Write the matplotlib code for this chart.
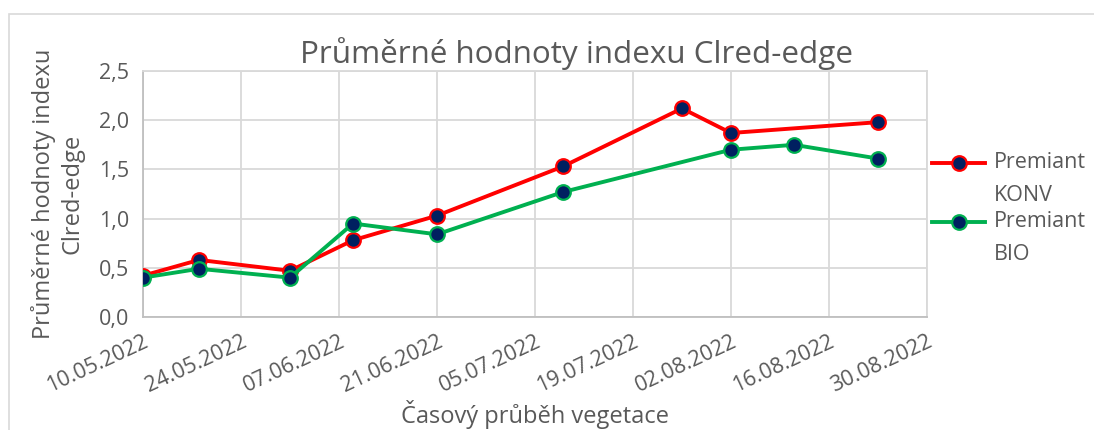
import datetime as dt
import matplotlib
matplotlib.use("Agg")
import matplotlib.pyplot as plt
import matplotlib.dates as mdates
from matplotlib.patches import Rectangle
from matplotlib.lines import Line2D

plt.rcParams['font.family'] = ['Open Sans', 'DejaVu Sans']

konv_dates = ["10.05.2022", "18.05.2022", "31.05.2022", "09.06.2022", "21.06.2022",
              "09.07.2022", "26.07.2022", "02.08.2022", "23.08.2022"]
konv_vals = [0.42, 0.58, 0.47, 0.78, 1.03, 1.53, 2.12, 1.87, 1.98]

bio_dates = ["10.05.2022", "18.05.2022", "31.05.2022", "09.06.2022", "21.06.2022",
             "09.07.2022", "02.08.2022", "11.08.2022", "23.08.2022"]
bio_vals = [0.40, 0.49, 0.40, 0.95, 0.84, 1.27, 1.70, 1.75, 1.61]

tick_dates = ["10.05.2022", "24.05.2022", "07.06.2022", "21.06.2022", "05.07.2022",
              "19.07.2022", "02.08.2022", "16.08.2022", "30.08.2022"]

series = [("Premiant", "KONV", "#ff0000"), ("Premiant", "BIO", "#00b050")]

def to_dt(lst):
    return [dt.datetime.strptime(s, "%d.%m.%Y") for s in lst]

gray = "#595959"
W, H = 1094, 430

fig = plt.figure(figsize=(W/100, H/100), dpi=100)
ax = fig.add_axes([143/W, 1 - 317/H, (927-143)/W, (317-71)/H])

style = dict(lw=2.8, marker="o", ms=10.5, mfc="#002060", mew=1.6, zorder=3)
ax.plot(to_dt(konv_dates), konv_vals, color=series[0][2], mec=series[0][2], **style)
ax.plot(to_dt(bio_dates), bio_vals, color=series[1][2], mec=series[1][2], **style)

td = to_dt(tick_dates)
ax.set_xlim(td[0], td[-1])
ax.set_ylim(0, 2.5)
ax.set_xticks(td)
ax.xaxis.set_major_formatter(mdates.DateFormatter("%d.%m.%Y"))
ax.set_yticks([0, 0.5, 1.0, 1.5, 2.0, 2.5])
ax.set_yticklabels(["0,0", "0,5", "1,0", "1,5", "2,0", "2,5"])
ax.grid(True, color="#d9d9d9", lw=1.3)
ax.set_axisbelow(True)
for s in ax.spines.values():
    s.set_color("#d9d9d9")
    s.set_linewidth(1.3)
ax.spines["bottom"].set_color("#bfbfbf")
ax.spines["left"].set_color("#bfbfbf")
ax.tick_params(length=0, colors=gray, labelsize=15.5)
ax.tick_params(axis="y", pad=10)
ax.tick_params(axis="x", pad=10)
plt.setp(ax.get_xticklabels(), rotation=25, ha="right", rotation_mode="anchor")

ax.set_title("Průměrné hodnoty indexu Clred-edge", fontsize=22.6, color=gray, pad=6,
             x=(576-143)/(927-143))
ax.set_xlabel("Časový průběh vegetace", fontsize=17, color=gray, labelpad=3)
ax.set_ylabel("Průměrné hodnoty indexu\nClred-edge", fontsize=17, color=gray, labelpad=10,
              linespacing=1.25)

# legend drawn by hand so the marker sits on the first text line
for i, (l1, l2, c) in enumerate(series):
    yy = 1 - (163 + 59 * i) / H
    fig.lines.append(Line2D([932/W, 985/W], [yy, yy], transform=fig.transFigure,
                            color=c, lw=2.8, zorder=3))
    fig.lines.append(Line2D([958.5/W], [yy], transform=fig.transFigure, marker="o",
                            ms=10.5, mfc="#002060", mec=c, mew=1.6, ls="none", zorder=4))
    fig.text(994/W, yy + 11/H, l1 + "\n" + l2, fontsize=15.5, color=gray, va="top",
             linespacing=1.75, transform=fig.transFigure)

fig.patches.append(Rectangle((9/W, -0.05), 1.1, 1 - 14/H + 0.05, transform=fig.transFigure,
                             fill=False, edgecolor="#d9d9d9", lw=1.2))

fig.savefig("out.png", dpi=100)
